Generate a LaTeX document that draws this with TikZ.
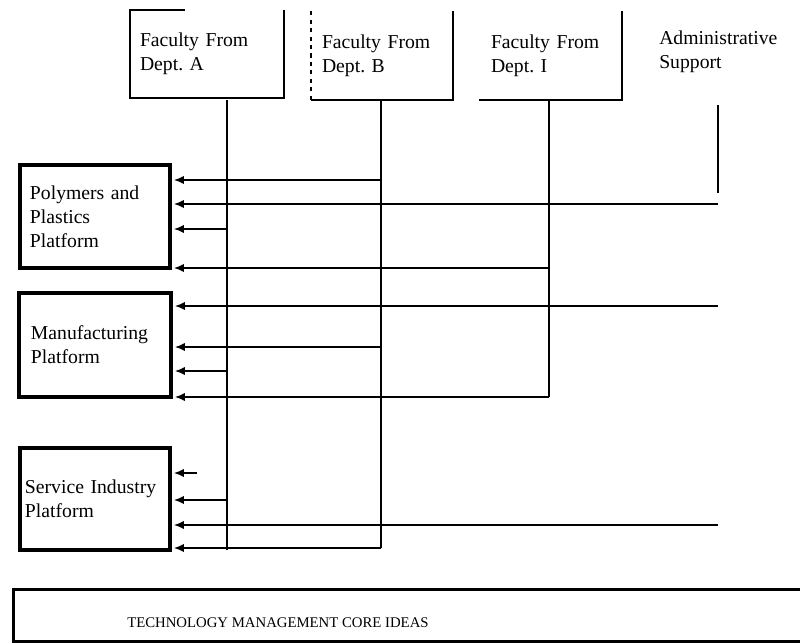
\documentclass[tikz,border=0pt]{standalone}
\usepackage{fontspec}
\setmainfont{Liberation Serif}
\usetikzlibrary{arrows.meta}
\frenchspacing

\tikzset{
  lbl/.style={font=\fontsize{14}{17}\selectfont, align=left},
  facbox/.style={lbl, minimum height=22mm, inner ysep=0pt},
  platbox/.style={lbl, draw, line width=2.4pt, minimum width=37.5mm},
  edge/.style={line width=1.3pt},
  trunk/.style={line width=1.2pt},
  feed/.style={-{Latex[length=7pt,width=6pt]}, line width=1.1pt, shorten >=0.6mm},
}

\begin{document}
\begin{tikzpicture}[x=0.25mm, y=-0.25mm]
\useasboundingbox (0,0) rectangle (800,644);

% Facolta e supporto
\node[facbox, text width=33.5mm, inner xsep=2.5mm] (fa) at (207,54) {Faculty From\\Dept. A};
\node[facbox, text width=30mm, inner xsep=2.75mm] (fb) at (382,55.5) {Faculty From\\Dept. B};
\node[facbox, text width=29.75mm, inner xsep=3mm] (fc) at (550.5,55.5) {Faculty From\\Dept. I};
\node[lbl, anchor=west, inner sep=0pt] (adm) at (659,52) {Administrative\\Support};

% Bordi (come stampati)
\draw[edge] (fa.north east) -- (fa.south east) -- (fa.south west) -- (fa.north west) -- ++(55,0);
\draw[edge] (fb.north east) -- (fb.south east) -- (fb.south west);
\draw[edge, dashed] (fb.south west) -- (fb.north west);
\draw[edge] (fc.north east) -- (fc.south east) -- (fc.south west);

% Piattaforme
\node[platbox, minimum height=25.75mm, text width=32.5mm, inner xsep=2.5mm] (pp) at (95,216.5) {Polymers and\\Plastics\\Platform};
\node[platbox, minimum height=26mm, text width=32mm, inner xsep=3mm] (mp) at (95,345) {Manufacturing\\Platform};
\node[platbox, minimum height=25.5mm, text width=35mm, inner xsep=1.25mm] (sp) at (95,499) {Service Industry\\Platform};

% Linee verticali
\coordinate (a0) at (227,100);
\coordinate (a1) at (227,550);
\coordinate (b0) at (381,100);
\coordinate (b1) at (381,548);
\coordinate (c0) at (549,100);
\coordinate (c1) at (549,397);
\coordinate (s0) at (718,105);
\coordinate (s1) at (718,193);
\draw[trunk] (a0) -- (a1);
\draw[trunk] (b0) -- (b1);
\draw[trunk] (c0) -- (c1);
\draw[trunk] (s0) -- (s1);

% Frecce verso Polymers
\draw[feed] (b0 |- 0,180) -- (pp.east |- 0,180);
\draw[feed] (s0 |- 0,204) -- (pp.east |- 0,204);
\draw[feed] (a0 |- 0,229) -- (pp.east |- 0,229);
\draw[feed] (c0 |- 0,268) -- (pp.east |- 0,268);

% Frecce verso Manufacturing
\draw[feed] (s0 |- 0,306) -- (mp.east |- 0,306);
\draw[feed] (b0 |- 0,347) -- (mp.east |- 0,347);
\draw[feed] (a0 |- 0,371) -- (mp.east |- 0,371);
\draw[feed] (c0 |- 0,397) -- (mp.east |- 0,397);

% Frecce verso Service
\coordinate (st) at (197,473);
\draw[feed] (st) -- (sp.east |- st);
\draw[feed] (a0 |- 0,500) -- (sp.east |- 0,500);
\draw[feed] (s0 |- 0,525) -- (sp.east |- 0,525);
\draw[feed] (b0 |- 0,548) -- (sp.east |- 0,548);

% Base
\node[draw, line width=2pt, minimum width=197mm, minimum height=13mm, anchor=north west] (core) at (12,588) {};
\node[anchor=base west, inner sep=0pt, font=\fontsize{10.5}{12}\selectfont] (coretxt) at (127,627) {TECHNOLOGY MANAGEMENT CORE IDEAS};
\end{tikzpicture}
\end{document}
